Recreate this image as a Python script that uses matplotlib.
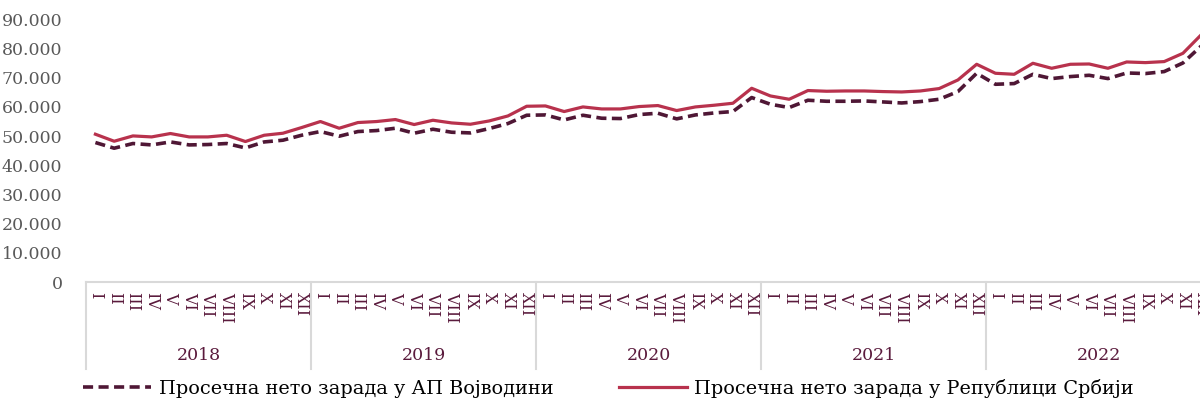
import matplotlib.pyplot as plt
import matplotlib.transforms as mtransforms
from matplotlib.ticker import FuncFormatter

plt.rcParams['font.family'] = ['DejaVu Serif']

years = ['2018', '2019', '2020', '2021', '2022']
months = ['I', 'II', 'III', 'IV', 'V', 'VI', 'VII', 'VIII', 'IX', 'X', 'XI', 'XII']

# average net wage, AP Vojvodina (RSD)
vojvodina = [
    47800, 45860, 47470, 46990, 48010, 46990, 47120, 47470, 45960, 48010, 48600, 50310,
    51570, 49970, 51570, 51910, 52700, 51000, 52360, 51330, 51100, 52590, 54310, 57150,
    57260, 55550, 57150, 56130, 56020, 57390, 57840, 55910, 57260, 57940, 58420, 63210,
    60920, 59790, 62290, 61940, 61940, 62050, 61710, 61360, 61830, 62630, 65260, 71530,
    67760, 68000, 71180, 69710, 70400, 70840, 69710, 71630, 71430, 72110, 75060, 81000,
]
# average net wage, Republic of Serbia (RSD)
srbija = [
    50650, 48250, 50070, 49730, 50890, 49730, 49730, 50300, 48150, 50300, 50990, 52940,
    55000, 52700, 54650, 55000, 55680, 53970, 55440, 54520, 54070, 55200, 56910, 60230,
    60340, 58420, 60000, 59310, 59310, 60130, 60470, 58760, 60000, 60580, 61260, 66390,
    63760, 62630, 65610, 65370, 65470, 65470, 65260, 65130, 65470, 66290, 69240, 74610,
    71530, 71180, 74950, 73240, 74610, 74710, 73240, 75400, 75180, 75530, 78370, 84870,
]

dark = '#4f1735'
red = '#b8324d'
label_col = '#5a1a3c'

fig = plt.figure(figsize=(12, 4.03), dpi=100)
ax = fig.add_axes([0.0717, 0.30, 0.9375, 0.652])

x = list(range(len(srbija)))
ax.plot(x, vojvodina, color=dark, lw=2.6, dashes=(2.8, 1.5),
        label='Просечна нето зарада у АП Војводини')
ax.plot(x, srbija, color=red, lw=2.3, label='Просечна нето зарада у Републици Србији')

ax.set_xlim(-0.5, len(x) - 0.5)
ax.set_ylim(0, 90000)
ax.set_yticks(range(0, 90001, 10000))
ax.yaxis.set_major_formatter(FuncFormatter(lambda v, p: f'{int(v):,}'.replace(',', '.')))
ax.tick_params(axis='y', length=0, pad=17, labelsize=12.5, labelcolor='#595959')

ax.set_xticks(x)
ax.set_xticklabels(months * len(years), rotation=270, fontsize=11.5, color=label_col)
ax.tick_params(axis='x', length=0, pad=7)

for s in ['top', 'right', 'left']:
    ax.spines[s].set_visible(False)
ax.spines['bottom'].set_color('#d9d9d9')
ax.spines['bottom'].set_linewidth(1.5)

# year groups under the month labels
trans = mtransforms.blended_transform_factory(ax.transData, ax.transAxes)
for i, yr in enumerate(years):
    left = i * 12 - 0.5
    ax.plot([left, left], [0, -0.33], transform=trans, color='#d9d9d9',
            lw=1.5, clip_on=False)
    ax.text(left + 6, -0.278, yr, transform=trans, ha='center', va='center',
            fontsize=12.5, color=label_col)

fig.legend(loc='center left', bbox_to_anchor=(0.055, 0.037), ncol=2, frameon=False,
           fontsize=13.9, handlelength=3.5, handletextpad=0.4, columnspacing=3.4)

fig.savefig('out.png', dpi=100)
